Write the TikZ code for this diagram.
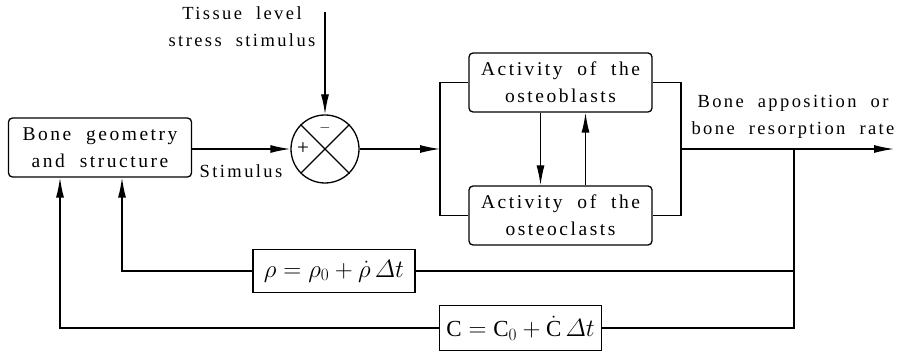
\documentclass[tikz,border=0pt]{standalone}
\usepackage{fontspec}
\setmainfont{Liberation Serif}[LetterSpace=13,WordSpace=2]
\usetikzlibrary{arrows.meta,calc}
\tikzset{
  every node/.style={font=\fontsize{18.5}{27}\selectfont},
  blk/.style={draw, line width=1.3pt, rounded corners=4pt, minimum width=183, minimum height=59, align=center, inner sep=0pt, font=\fontsize{19.5}{27}\selectfont},
  eqbox/.style={draw, line width=1.3pt, minimum width=162, minimum height=43, inner sep=0pt, font=\fontsize{23}{23}\selectfont},
  ln/.style={line width=1.3pt},
  arr/.style={line width=1.3pt, -{Latex[length=20pt,width=8pt]}},
}
\begin{document}
\begin{tikzpicture}[x=1pt,y=-1pt]
\useasboundingbox (0,0) rectangle (923,355);
\node[blk] (bg) at (100,147.5) {Bone geometry\\and structure};
\node[draw, circle, line width=1.3pt, minimum size=68, inner sep=0pt] (sum) at (325,149) {};
\draw[ln] (sum.45) -- (sum.225) (sum.135) -- (sum.315);
\node[font=\fontsize{21}{21}\selectfont, inner sep=0pt] (plus) at (303,149) {+};
\node[font=\fontsize{14}{14}\selectfont, inner sep=0pt] (minus) at (325,128) {$-$};
\node[blk] (ob) at (560.5,82.5) {Activity of the\\osteoblasts};
\node[blk] (oc) at (560.5,215.5) {Activity of the\\osteoclasts};
\node[eqbox] (rho) at (334,271) {$\rho = \rho_0 + \dot\rho\,\mathnormal{\Delta} t$};
\node[eqbox, minimum height=45] (C) at (520.5,328) {$\mathrm{C} = \mathrm{C}_0 + \dot{\mathrm{C}}\,\mathnormal{\Delta} t$};
\node[align=center] (tis) at (242,27) {Tissue level\\stress stimulus};
\node (stim) at (241,171) {Stimulus};
\node[align=center] (out) at (793,117) {Bone apposition or\\bone resorption rate};
\coordinate (top) at (325,12);
\coordinate (jL) at (440,149);
\coordinate (jR) at (681,149);
\coordinate (fb) at (794,149);
\coordinate (end) at (894,149);
\draw[arr] (bg.east |- sum.west) -- (sum.west);
\draw[arr] (top) -- (sum.north);
\draw[arr] (sum.east) -- (jL);
\draw[ln] (ob.west) -| (jL) |- (oc.west);
\draw[ln] (ob.east) -| (jR) |- (oc.east);
\draw[arr] (jR) -- (end);
\draw[arr] ([xshift=-20]ob.south) -- ([xshift=-20]oc.north);
\draw[arr] ([xshift=25]oc.north) -- ([xshift=25]ob.south);
\draw[ln] (fb) |- (rho.east);
\draw[ln] (fb) |- (C.east);
\draw[arr] (rho.west) -| ([xshift=22]bg.south);
\draw[arr] (C.west) -| ([xshift=-40]bg.south);
\end{tikzpicture}
\end{document}
